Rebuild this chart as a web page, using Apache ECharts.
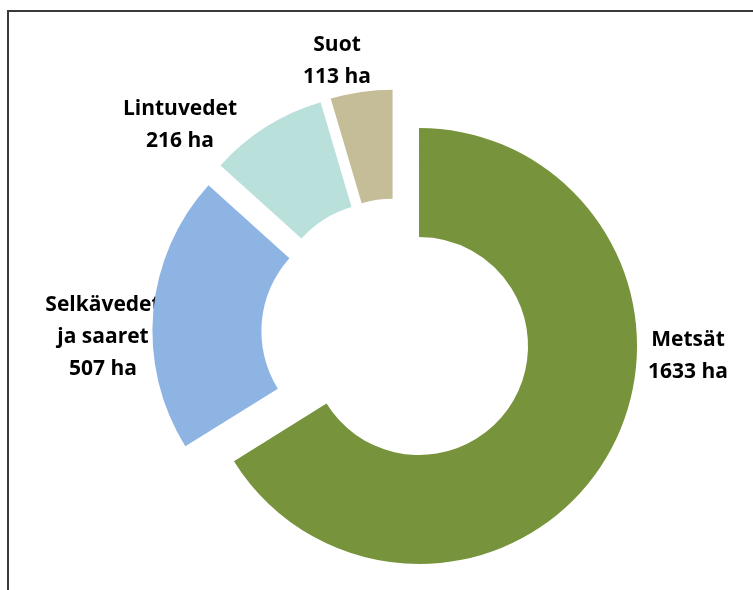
<!DOCTYPE html>
<html>
<head>
<meta charset="utf-8">
<script src="https://cdn.jsdelivr.net/npm/echarts@6/dist/echarts.min.js"></script>
<style>
html,body{margin:0;padding:0;background:#fff;}
#chart{width:753px;height:590px;}
</style>
</head>
<body>
<div id="chart"></div>
<script>
// Data
var categories = ['Metsät', 'Selkävedet ja saaret', 'Lintuvedet', 'Suot'];
var values = [1633, 507, 216, 113];
var unit = 'ha';

// Styles (not data)
var colors = ['#77933C', '#8EB4E3', '#BAE0DC', '#C4BD97'];
var labelPos = [[688, 356], [103, 337], [180, 125], [337, 61]];

var chart = echarts.init(document.getElementById('chart'), null, {renderer: 'canvas'});

var data = categories.map(function (c, i) {
  return { name: c, value: values[i], selected: true, itemStyle: { color: colors[i] } };
});

var graphics = [{
  type: 'rect',
  shape: { x: 8, y: 11, width: 900, height: 800 },
  style: { fill: 'none', stroke: '#3a3a3a', lineWidth: 2 },
  silent: true
}];
categories.forEach(function (c, i) {
  graphics.push({
    type: 'text',
    x: labelPos[i][0],
    y: labelPos[i][1],
    silent: true,
    style: {
      text: c.replace(' ja ', '\nja ') + '\n' + values[i] + ' ' + unit,
      fontFamily: 'Open Sans',
      fontWeight: 'bold',
      fontSize: 21,
      lineHeight: 32,
      fill: '#000',
      align: 'center',
      verticalAlign: 'middle'
    }
  });
});

chart.setOption({
  animation: false,
  backgroundColor: '#ffffff',
  graphic: graphics,
  series: [{
    type: 'pie',
    center: [396.3, 333.4],
    radius: [109, 218],
    startAngle: 90,
    clockwise: true,
    selectedMode: 'multiple',
    selectedOffset: 26,
    data: data,
    label: { show: false },
    labelLine: { show: false },
    emphasis: { disabled: true }
  }]
});
</script>
</body>
</html>
